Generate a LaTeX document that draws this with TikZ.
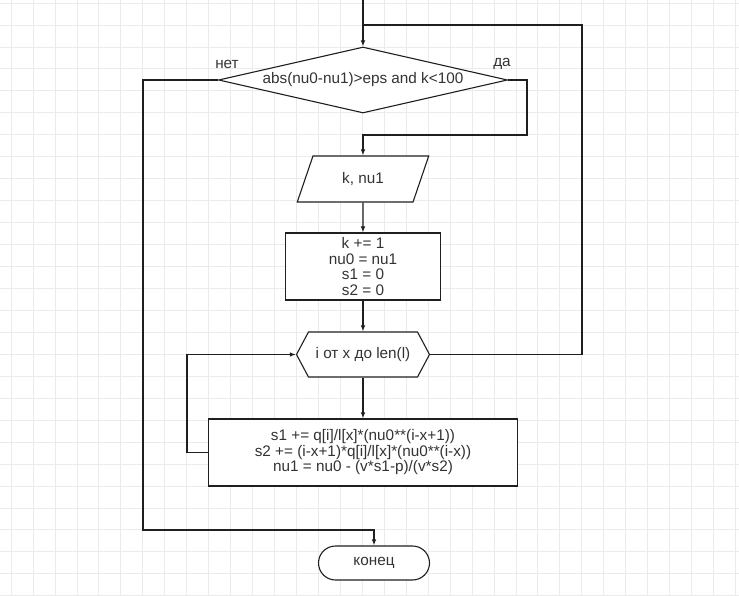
\documentclass[tikz,border=0pt]{standalone}
\usepackage{fontspec}
\setmainfont{Liberation Sans}
\usepackage{tikz}
\usetikzlibrary{arrows.meta,positioning,shapes.geometric,shapes.misc,shapes.symbols}

\begin{document}
\begin{tikzpicture}[
    x=1pt,y=1pt,
    >={Latex[length=6pt,width=4.5pt]},
    line/.style={draw=black!88, line width=1.1pt},
    gridline/.style={draw=black!8, line width=0.7pt},
    shapebox/.style={
        draw=black!88,
        line width=1.1pt,
        fill=white,
        text=black!80,
        font=\fontsize{15.3}{15.5}\selectfont,
        inner sep=0pt,
        align=center
    },
    decision/.style={shapebox, diamond, aspect=4.4, minimum width=289, minimum height=66},
    iobox/.style={shapebox, trapezium, trapezium left angle=63.4, trapezium right angle=116.6,
        trapezium stretches=true, minimum width=132, minimum height=46},
    procbox/.style={shapebox, rectangle, minimum height=67},
    loopbox/.style={shapebox, signal, signal to=west and east, signal pointer angle=124,
        minimum width=133, minimum height=45},
    endbox/.style={shapebox, rounded rectangle, minimum width=111, minimum height=34},
    label/.style={font=\fontsize{15.3}{15.5}\selectfont, text=black!80}
]

% ===== canvas and grid =====
\useasboundingbox (0,0) rectangle (739,-596);
\fill[white] (0,0) rectangle (739,-596);
\foreach \i in {0,...,33} {
  \draw[gridline] ({11+21.95*\i},0) -- ({11+21.95*\i},-596);
}
\foreach \j in {0,...,27} {
  \draw[gridline] (0,{-3-21.95*\j}) -- (739,{-3-21.95*\j});
}

% ===== nodes =====
\node[decision] (cond) at (363,-80) {abs(nu0-nu1)>eps and k<100};
\node[iobox] (out) at (363,-179) {k, nu1};
\node[procbox, minimum width=155] (init) at (363,-266.5)
  {k += 1\\ nu0 = nu1\\ s1 = 0\\ s2 = 0};
\node[loopbox] (loop) at (363,-354.5) {i от x до len(l)};
\node[procbox, minimum width=309] (body) at (363,-452.5)
  {s1 += q[i]/l[x]*(nu0**(i-x+1))\\ s2 += (i-x+1)*q[i]/l[x]*(nu0**(i-x))\\ nu1 = nu0 - (v*s1-p)/(v*s2)};
\node[endbox] (stop) at (374,-563) {конец};

% branch labels
\node[label] (nolbl) at (227,-64) {нет};
\node[label] (yeslbl) at (502,-64) {да};

% ===== helper points =====
\coordinate (start) at (363,0);
\coordinate (join) at (363,-25);
\coordinate (back) at (582,-25);
\coordinate (yes) at (527,-135);
\coordinate (no) at (143,-530);
\coordinate (inner) at (187,-354.5);

% ===== connectors =====
\draw[line,->] (start) -- (cond.north);
\draw[line] (loop.east) -| (back) -- (join);

\draw[line,->] (cond.east) -| (yes) -| (out.north);
\draw[line,->] (cond.west) -| (no) -| (stop.north);

\draw[line,->] (out.south) -- (init.north);
\draw[line,->] (init.south) -- (loop.north);
\draw[line,->] (loop.south) -- (body.north);
\draw[line,->] (body.west) -| (inner) -- (loop.west);
\end{tikzpicture}
\end{document}
